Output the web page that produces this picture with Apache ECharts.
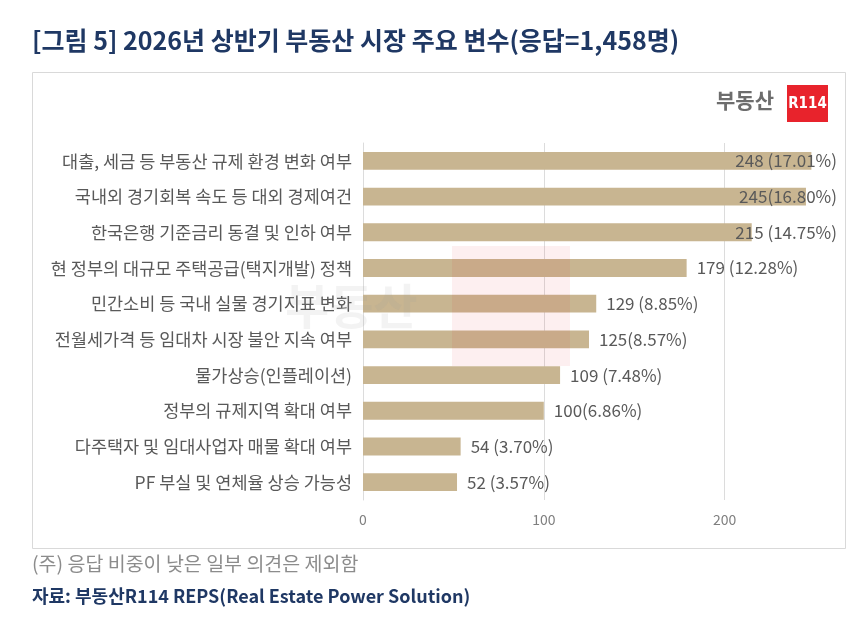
<!DOCTYPE html>
<html><head><meta charset="utf-8">
<script src="https://cdn.jsdelivr.net/npm/echarts@6/dist/echarts.min.js"></script>
<style>html,body{margin:0;padding:0;background:#fff}#c{width:860px;height:621px}</style>
</head><body><div id="c"></div>
<script>
const categories = [
  '대출, 세금 등 부동산 규제 환경 변화 여부',
  '국내외 경기회복 속도 등 대외 경제여건',
  '한국은행 기준금리 동결 및 인하 여부',
  '현 정부의 대규모 주택공급(택지개발) 정책',
  '민간소비 등 국내 실물 경기지표 변화',
  '전월세가격 등 임대차 시장 불안 지속 여부',
  '물가상승(인플레이션)',
  '정부의 규제지역 확대 여부',
  '다주택자 및 임대사업자 매물 확대 여부',
  'PF 부실 및 연체율 상승 가능성'
];
const values = [248, 245, 215, 179, 129, 125, 109, 100, 54, 52];
const valueLabels = ['248 (17.01%)', '245(16.80%)', '215 (14.75%)', '179 (12.28%)', '129 (8.85%)',
  '125(8.57%)', '109 (7.48%)', '100(6.86%)', '54 (3.70%)', '52 (3.57%)'];
const tickValues = [0, 100, 200];

const FONT = "'Noto Sans CJK KR', 'Noto Sans', sans-serif";
const gridLeft = 363, gridRight = 45;
const gridWidth = 860 - gridLeft - gridRight;

const chart = echarts.init(document.getElementById('c'));
chart.setOption({
  backgroundColor: '#ffffff',
  animation: false,
  textStyle: { fontFamily: FONT },
  grid: { left: gridLeft, right: gridRight, top: 143, bottom: 121, containLabel: false },
  xAxis: {
    type: 'value', min: 0, max: 250, interval: 100,
    axisLine: { show: false }, axisTick: { show: false },
    axisLabel: { color: '#7f7f7f', fontSize: 14, margin: 13, fontFamily: FONT,
      showMaxLabel: false,
      formatter: v => tickValues.indexOf(v) >= 0 ? String(v) : '' },
    splitLine: { show: true, showMaxLine: false, lineStyle: { color: '#dcdcdc', width: 1 } }
  },
  yAxis: {
    type: 'category', data: categories, inverse: true,
    axisLine: { show: true, lineStyle: { color: '#dcdcdc' } },
    axisTick: { show: false },
    axisLabel: { color: '#595959', fontSize: 17.5, margin: 11, fontFamily: FONT }
  },
  series: [{
    type: 'bar',
    barWidth: '50%',
    itemStyle: { color: '#c8b591' },
    data: values.map((v, i) => {
      const item = { value: v };
      if (v >= 200) {
        item.label = { position: [gridWidth + 22, '50%'], align: 'right', verticalAlign: 'middle' };
      }
      return item;
    }),
    label: {
      show: true, position: 'right', distance: 10,
      color: '#595959', fontSize: 17, fontFamily: FONT,
      formatter: p => valueLabels[p.dataIndex]
    },
    z: 2
  }],
  graphic: [
    { type: 'rect', left: 30, top: 70, shape: { width: 813, height: 476 }, silent: true,
      style: { fill: 'none', stroke: '#d9d9d9', lineWidth: 1 }, z: -10 },
    { type: 'text', left: 32, top: 28,
      style: { text: '[그림 5] 2026년 상반기 부동산 시장 주요 변수(응답=1,458명)', fill: '#1f3864',
        font: "bold 25px " + FONT } },
    { type: 'text', left: 716, top: 90,
      style: { text: '부동산', fill: '#6d6d6d', font: "bold 21px " + FONT } },
    { type: 'rect', left: 787, top: 85, shape: { width: 41, height: 37 },
      style: { fill: '#e8232c' } },
    { type: 'text', x: 807.5, y: 104,
      style: { text: 'R114', fill: '#ffffff', align: 'center', verticalAlign: 'middle',
        font: "bold 15px 'DejaVu Sans Condensed', 'Liberation Sans Narrow', sans-serif" } },
    { type: 'rect', left: 452, top: 246, shape: { width: 118, height: 120 }, silent: true,
      style: { fill: '#e8232c', opacity: 0.07 }, z: 10 },
    { type: 'text', left: 285, top: 282, silent: true, z: 10,
      style: { text: '부동산', fill: '#9a9a9a', opacity: 0.12, font: "bold 48px " + FONT } },
    { type: 'text', left: 32, top: 554,
      style: { text: '(주) 응답 비중이 낮은 일부 의견은 제외함', fill: '#8c8c8c', font: "19.5px " + FONT } },
    { type: 'text', left: 32, top: 587,
      style: { text: '자료: 부동산R114 REPS(Real Estate Power Solution)', fill: '#1f3864', font: "bold 18px " + FONT } }
  ]
});
</script></body></html>
